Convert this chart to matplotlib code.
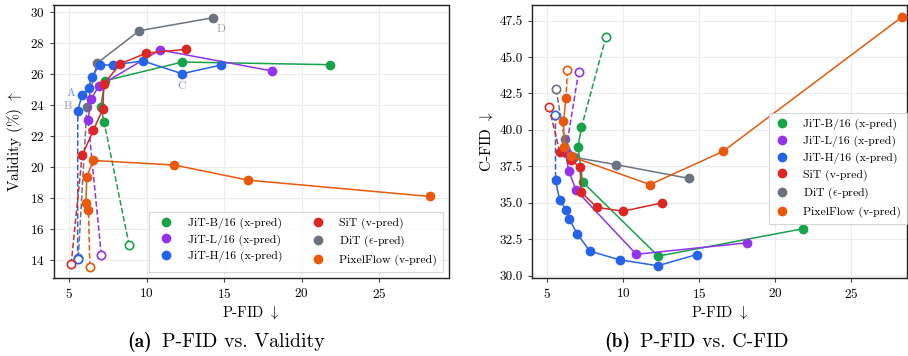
import matplotlib
matplotlib.use('Agg')
import matplotlib.pyplot as plt
from matplotlib.lines import Line2D

plt.rcParams['font.family'] = ['cmr10', 'DejaVu Serif']
plt.rcParams['mathtext.fontset'] = 'cm'
plt.rcParams['axes.formatter.use_mathtext'] = True

# first entry of each list = open marker (no guidance), rest = filled points
models = ['JiT-B/16 (x-pred)', 'JiT-L/16 (x-pred)', 'JiT-H/16 (x-pred)',
          'SiT (v-pred)', r'DiT ($\epsilon$-pred)', 'PixelFlow (v-pred)']
colors = ['#16a34a', '#9333ea', '#2563eb', '#dc2626', '#6b7280', '#ea580c']

jit_b_pfid = [8.86, 7.24, 7.02, 7.32, 12.29, 21.85]
jit_b_val = [14.95, 22.9, 23.9, 25.57, 26.77, 26.6]
jit_b_cfid = [46.4, 40.17, 38.85, 36.43, 31.34, 33.23]

jit_l_pfid = [7.06, 6.2, 6.4, 6.9, 10.85, 18.12]
jit_l_val = [14.32, 23.05, 24.38, 25.22, 27.55, 26.19]
jit_l_cfid = [44.0, 38.45, 37.2, 35.85, 31.47, 32.25]

jit_h_pfid = [5.53, 5.54, 5.8, 6.25, 6.43, 6.95, 7.8, 9.75, 12.27, 14.82]
jit_h_val = [14.04, 23.6, 24.63, 25.1, 25.8, 26.58, 26.58, 26.84, 26.02, 26.58]
jit_h_cfid = [41.0, 36.54, 35.22, 34.49, 33.92, 32.89, 31.68, 31.09, 30.68, 31.45]

sit_pfid = [5.11, 5.82, 6.55, 7.16, 7.22, 8.27, 9.97, 12.53]
sit_val = [13.72, 20.75, 22.37, 23.75, 25.34, 26.65, 27.35, 27.59]
sit_cfid = [41.57, 38.46, 37.95, 37.43, 35.72, 34.69, 34.42, 34.99]

dit_pfid = [5.57, 6.13, 6.78, 9.51, 14.29]
dit_val = [14.15, 23.89, 26.69, 28.79, 29.63]
dit_cfid = [42.8, 39.38, 38.12, 37.62, 36.68]

pf_pfid = [6.32, 6.23, 6.06, 6.12, 6.54, 11.76, 16.56, 28.3]
pf_val = [13.57, 17.2, 17.68, 19.37, 20.42, 20.13, 19.15, 18.1]
pf_cfid = [44.08, 42.2, 40.58, 38.8, 38.18, 36.25, 38.53, 47.73]

pfid = [jit_b_pfid, jit_l_pfid, jit_h_pfid, sit_pfid, dit_pfid, pf_pfid]
validity = [jit_b_val, jit_l_val, jit_h_val, sit_val, dit_val, pf_val]
cfid = [jit_b_cfid, jit_l_cfid, jit_h_cfid, sit_cfid, dit_cfid, pf_cfid]

# draw order (gray at the back, orange on top)
draw_order = [4, 0, 1, 2, 3, 5]

fig = plt.figure(figsize=(9.08, 3.56), dpi=100)
ax1 = fig.add_axes([53.5 / 908, 78 / 356, 395 / 908, 273 / 356])
ax2 = fig.add_axes([531.7 / 908, 77.7 / 356, 375.3 / 908, 273 / 356])


def draw_series(ax, xs, ys, color, z):
    ax.plot(xs[:2], ys[:2], ls='--', color=color, lw=1.1, zorder=z)
    ax.plot(xs[1:], ys[1:], ls='-', color=color, lw=1.1, marker='o',
            ms=6, mec=color, mfc=color, zorder=z)
    ax.plot(xs[0], ys[0], marker='o', ms=6, mfc='white', mec=color,
            mew=1.2, ls='none', zorder=z)


for z, i in enumerate(draw_order):
    draw_series(ax1, pfid[i], validity[i], colors[i], 3 + z)
    draw_series(ax2, pfid[i], cfid[i], colors[i], 3 + z)

for ax in (ax1, ax2):
    ax.grid(True, color='#ececec', lw=0.8, zorder=0)
    ax.set_axisbelow(True)
    for s in ax.spines.values():
        s.set_color('#222222')
        s.set_linewidth(1.0)
    ax.tick_params(labelsize=9.5, length=3, width=0.8, color='#444444')
    ax.set_xticks([5, 10, 15, 20, 25])
    ax.set_xlabel(r'P-FID $\downarrow$', fontsize=10.5, labelpad=2)

ax1.set_xlim(3.97, 29.5)
ax1.set_ylim(12.84, 30.45)
ax1.set_yticks(range(14, 31, 2))
ax1.set_ylabel(r'Validity (%) $\uparrow$', fontsize=11, labelpad=3)

ax2.set_xlim(3.97, 28.66)
ax2.set_ylim(29.82, 48.55)
ax2.set_yticks([30, 32.5, 35, 37.5, 40, 42.5, 45, 47.5])
ax2.set_yticklabels([f'{v:.1f}' for v in [30, 32.5, 35, 37.5, 40, 42.5, 45, 47.5]])
ax2.set_ylabel(r'C-FID $\downarrow$', fontsize=11, labelpad=3)

# point labels
lab_kw = dict(textcoords='offset points', ha='center', va='center', fontsize=8.5)
ax1.annotate('A', (jit_h_pfid[2], jit_h_val[2]), xytext=(-8, 1.2),
             color=colors[2], alpha=0.65, **lab_kw)
ax1.annotate('B', (dit_pfid[1], dit_val[1]), xytext=(-13.7, 0.5),
             color=colors[4], alpha=0.65, **lab_kw)
ax1.annotate('C', (jit_h_pfid[8], jit_h_val[8]), xytext=(0, -9),
             color=colors[2], alpha=0.65, **lab_kw)
ax1.annotate('D', (dit_pfid[4], dit_val[4]), xytext=(6, -8.4),
             color=colors[4], alpha=0.65, **lab_kw)

handles = [Line2D([], [], ls='none', marker='o', ms=6, mfc=c, mec=c)
           for c in colors]
leg_kw = dict(fontsize=8.5, frameon=True, fancybox=False, edgecolor='#cccccc',
              borderpad=0.5, labelspacing=0.45)
l1 = ax1.legend(handles, models, loc='lower right', ncol=2,
                columnspacing=2.0, handletextpad=0.8, **leg_kw)
l2 = ax2.legend(handles, models, loc='upper right', handlelength=1.2,
                handletextpad=1.2, bbox_to_anchor=(1.0, 0.605),
                borderaxespad=0.0, **leg_kw)
for l in (l1, l2):
    l.get_frame().set_linewidth(0.8)
    l.set_zorder(20)

cap_y = 1 - 342 / 356
fig.text(152 / 908, cap_y, '(a)', family='cmb10', ha='right', va='center',
         fontsize=14)
fig.text(162 / 908, cap_y, 'P-FID vs. Validity', ha='left', va='center',
         fontsize=14.3)
fig.text(630 / 908, cap_y, '(b)', family='cmb10', ha='right', va='center',
         fontsize=14)
fig.text(640 / 908, cap_y, 'P-FID vs. C-FID', ha='left', va='center',
         fontsize=14.3)

fig.savefig('out.png', dpi=100, facecolor='white')
